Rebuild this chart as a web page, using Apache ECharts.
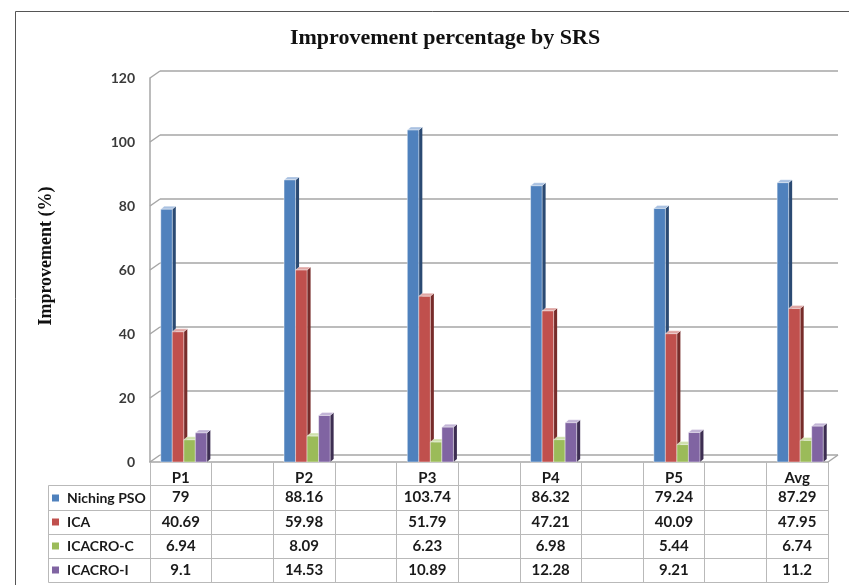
<!DOCTYPE html>
<html>
<head>
<meta charset="utf-8">
<script src="https://cdn.jsdelivr.net/npm/echarts@6/dist/echarts.min.js"></script>
<style>
html, body { margin: 0; padding: 0; background: #ffffff; }
#chart { width: 849px; height: 585px; }
</style>
</head>
<body>
<div id="chart"></div>
<script>
// ---- data ----
const categories = ['P1', 'P2', 'P3', 'P4', 'P5', 'Avg'];
const seriesNames = ['Niching PSO', 'ICA', 'ICACRO-C', 'ICACRO-I'];
const nichingPSO = [79, 88.16, 103.74, 86.32, 79.24, 87.29];
const ica = [40.69, 59.98, 51.79, 47.21, 40.09, 47.95];
const icacroC = [6.94, 8.09, 6.23, 6.98, 5.44, 6.74];
const icacroI = [9.1, 14.53, 10.89, 12.28, 9.21, 11.2];
const yTicks = [0, 20, 40, 60, 80, 100, 120];

const allValues = [nichingPSO, ica, icacroC, icacroI];

// front / side / top shades for the extruded bars
const faceColors = [
  { front: '#4F81BD', side: '#2B4A73', top: '#A9C1E1' },
  { front: '#C0504D', side: '#772C2A', top: '#E0A6A4' },
  { front: '#9BBB59', side: '#5E7432', top: '#CFE1AC' },
  { front: '#8064A2', side: '#3D2E52', top: '#C2B4D6' }
];

// every category owns one slot, followed by an empty spacer slot
function interleave(list) {
  const out = [];
  list.forEach((v, i) => {
    out.push(v);
    if (i < list.length - 1) out.push('');
  });
  return out;
}
const slots = interleave(categories);
const slotOf = i => i * 2;

const tableLine = '#b9b9b9';
const wallLine = '#a6a6a6';
const cellFont = { fontFamily: 'Lato', fontWeight: 'bold', fontSize: 15, color: '#1a1a1a' };

// data table rows below the plot (row top offsets from the floor edge)
const rowOffsets = [23, 48, 72, 96];
const rowHeights = [25, 24, 24, 24];
const tableBottom = 120;

// depth of the back wall and of each bar
const wallDX = 10, wallDY = 7;
const barDX = 3.5, barDY = 3;

function barRenderer(si) {
  const c = faceColors[si];
  return function (params, api) {
    const slot = api.value(0);
    const v = api.value(1);
    const base = api.coord([slot, 0]);
    const top = api.coord([slot, v]);
    const band = api.size([1, 0])[0];
    const bw = band * 0.187;
    const x0 = base[0] - 2 * bw + 3 + si * bw;
    const x1 = x0 + bw;
    const y0 = base[1];
    const y1 = top[1];
    return {
      type: 'group',
      children: [
        {
          type: 'polygon',
          shape: { points: [[x1, y0], [x1 + barDX, y0 - barDY], [x1 + barDX, y1 - barDY], [x1, y1]] },
          style: { fill: c.side }
        },
        {
          type: 'polygon',
          shape: { points: [[x0, y1], [x0 + barDX, y1 - barDY], [x1 + barDX, y1 - barDY], [x1, y1]] },
          style: { fill: c.top, stroke: 'rgba(255,255,255,0.6)', lineWidth: 0.6 }
        },
        {
          type: 'rect',
          shape: { x: x0, y: y1, width: bw, height: y0 - y1 },
          style: { fill: c.front, stroke: 'rgba(255,255,255,0.55)', lineWidth: 0.8 }
        }
      ]
    };
  };
}

const barSeries = allValues.map((vals, si) => ({
  type: 'custom',
  name: seriesNames[si],
  xAxisIndex: 0,
  yAxisIndex: 0,
  renderItem: barRenderer(si),
  encode: { x: 0, y: 1 },
  itemStyle: { color: faceColors[si].front },
  data: vals.map((v, i) => [slotOf(i), v]),
  z: 5
}));

// slanted edges joining the front axis to the back wall
const wallEdges = {
  type: 'custom',
  xAxisIndex: 0,
  yAxisIndex: 0,
  silent: true,
  z: 2,
  renderItem: function (params, api) {
    const band = api.size([1, 0])[0];
    const p = api.coord([0, api.value(0)]);
    const left = p[0] - band / 2;
    return {
      type: 'line',
      shape: { x1: left, y1: p[1], x2: left + wallDX, y2: p[1] - wallDY },
      style: { stroke: wallLine, lineWidth: 1.5 }
    };
  },
  encode: { y: 0 },
  data: yTicks.map(v => [v])
};

const floorEdge = {
  type: 'custom',
  xAxisIndex: 0,
  yAxisIndex: 0,
  silent: true,
  z: 2,
  renderItem: function (params, api) {
    const band = api.size([1, 0])[0];
    const p = api.coord([api.value(0), 0]);
    const right = p[0] + band / 2;
    return {
      type: 'line',
      shape: { x1: right, y1: p[1], x2: right + wallDX, y2: p[1] - wallDY },
      style: { stroke: wallLine, lineWidth: 1.5 }
    };
  },
  data: [[slots.length - 1]]
};

const rowAxes = allValues.map((vals, k) => ({
  type: 'category',
  gridIndex: 0,
  position: 'bottom',
  offset: rowOffsets[k],
  data: interleave(vals.map(v => String(v))),
  boundaryGap: true,
  axisLine: { show: true, lineStyle: { color: tableLine } },
  axisTick: { show: true, interval: 0, length: rowHeights[k], lineStyle: { color: tableLine } },
  axisLabel: Object.assign({ interval: 0, margin: 5 }, cellFont),
  splitLine: { show: false }
}));

// legend column borders, left of the table
const legendLeft = 48.5, legendRight = 150;
const legendRows = [485.5, 510.5, 534.5, 558.5, 582.5];
const legendBorders = legendRows.map(y => ({
  type: 'line', silent: true,
  shape: { x1: legendLeft, y1: y, x2: legendRight, y2: y },
  style: { stroke: tableLine, lineWidth: 1 }
}));
legendBorders.push({
  type: 'line', silent: true,
  shape: { x1: legendLeft, y1: legendRows[0], x2: legendLeft, y2: legendRows[legendRows.length - 1] },
  style: { stroke: tableLine, lineWidth: 1 }
});

const option = {
  animation: false,
  backgroundColor: '#ffffff',
  color: faceColors.map(c => c.front),
  title: {
    text: 'Improvement percentage by SRS',
    left: 440,
    top: 22,
    textAlign: 'center',
    textStyle: { fontFamily: 'Liberation Serif', fontWeight: 'bold', fontSize: 22, color: '#111111' }
  },
  legend: {
    orient: 'vertical',
    left: 52,
    top: 486,
    padding: 0,
    itemWidth: 7,
    itemHeight: 7,
    itemGap: 0,
    icon: 'rect',
    selectedMode: false,
    data: seriesNames,
    textStyle: Object.assign({}, cellFont, { fontSize: 14, lineHeight: 24, padding: [0, 0, 0, 3] })
  },
  grid: [
    { left: 150, right: 21, top: 78, bottom: 123 },
    { left: 160, right: 11, top: 71, bottom: 130 }
  ],
  xAxis: [
    {
      type: 'category',
      gridIndex: 0,
      data: slots,
      boundaryGap: true,
      axisLine: { show: true, lineStyle: { color: wallLine, width: 1.5 } },
      axisTick: { show: true, interval: 0, length: 23, lineStyle: { color: tableLine } },
      axisLabel: Object.assign({ interval: 0, margin: 9 }, cellFont),
      splitLine: { show: false }
    },
    ...rowAxes,
    {
      type: 'category',
      gridIndex: 0,
      position: 'bottom',
      offset: tableBottom,
      data: slots,
      axisLine: { show: true, lineStyle: { color: tableLine } },
      axisTick: { show: false },
      axisLabel: { show: false }
    },
    {
      type: 'category',
      gridIndex: 1,
      data: slots,
      show: false
    }
  ],
  yAxis: [
    {
      type: 'value',
      gridIndex: 0,
      min: 0,
      max: 120,
      interval: 20,
      axisLine: { show: true, lineStyle: { color: wallLine, width: 1.5 } },
      axisTick: { show: false },
      splitLine: { show: false },
      axisLabel: { margin: 15, fontFamily: 'Lato', fontWeight: 'bold', fontSize: 14, color: '#3a3a3a' },
      name: 'Improvement (%)',
      nameLocation: 'middle',
      nameGap: 95,
      nameRotate: 90,
      nameTextStyle: { fontFamily: 'Liberation Serif', fontWeight: 'bold', fontSize: 18, color: '#111111', padding: [0, 0, 0, 28] }
    },
    {
      type: 'value',
      gridIndex: 1,
      min: 0,
      max: 120,
      interval: 20,
      axisLine: { show: false },
      axisTick: { show: false },
      axisLabel: { show: false },
      splitLine: { show: true, lineStyle: { color: wallLine, width: 1.5 } }
    }
  ],
  graphic: [
    {
      type: 'rect', silent: true, z: -10,
      shape: { x: 15.5, y: 11.5, width: 900, height: 700 },
      style: { fill: 'none', stroke: '#555555', lineWidth: 1 }
    },
    ...legendBorders
  ],
  series: [wallEdges, floorEdge, ...barSeries]
};

const chart = echarts.init(document.getElementById('chart'), null, { renderer: 'canvas' });
chart.setOption(option);
</script>
</body>
</html>
